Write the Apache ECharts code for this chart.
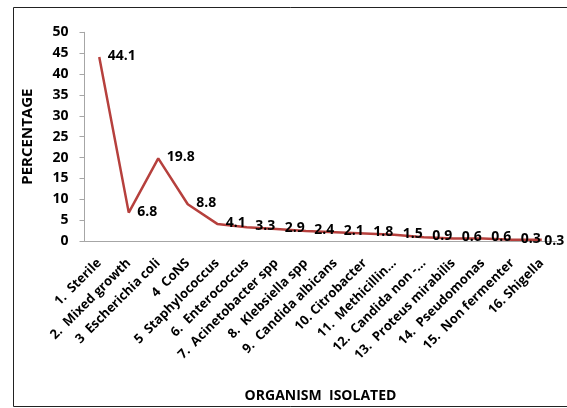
<!DOCTYPE html>
<html>
<head>
<meta charset="utf-8">
<script src="https://cdn.jsdelivr.net/npm/echarts@6/dist/echarts.min.js"></script>
<style>
html,body{margin:0;padding:0;background:#fff;}
#c{width:567px;height:408px;}
</style>
</head>
<body>
<div id="c"></div>
<script>
const categories = [
  "1.  Sterile", "2.  Mixed growth", "3  Escherichia coli", "4  CoNS",
  "5  Staphylococcus", "6.  Enterococcus", "7.  Acinetobacter spp", "8.  Klebsiella spp",
  "9.  Candida albicans", "10. Citrobacter", "11.  Methicillin…", "12.  Candida non -…",
  "13.  Proteus mirabilis", "14.  Pseudomonas", "15.  Non fermenter", "16. Shigella"
];
const percentages = [44.1, 6.8, 19.8, 8.8, 4.1, 3.3, 2.9, 2.4, 2.1, 1.8, 1.5, 0.9, 0.6, 0.6, 0.3, 0.3];
const yTicks = { min: 0, max: 50, interval: 5 };
const xTitle = "ORGANISM  ISOLATED";
const yTitle = "PERCENTAGE";

const FONT = "Open Sans";
const chart = echarts.init(document.getElementById('c'), null, { renderer: 'canvas' });
chart.setOption({
  animation: false,
  backgroundColor: '#ffffff',
  textStyle: { fontFamily: FONT },
  graphic: [{
    type: 'rect',
    shape: { x: 13.5, y: 7.5, width: 600, height: 399 },
    style: { fill: 'none', stroke: '#222', lineWidth: 1 },
    silent: true
  }],
  grid: { left: 84.5, right: 10.5, top: 32.3, bottom: 158.7, containLabel: false },
  xAxis: {
    type: 'category',
    data: categories,
    boundaryGap: true,
    name: xTitle,
    nameLocation: 'middle',
    nameGap: 148,
    nameTextStyle: { fontFamily: FONT, fontWeight: 'bold', fontSize: 14, color: '#000' },
    axisLine: { lineStyle: { color: '#a6a6a6', width: 1 } },
    axisTick: { show: false },
    axisLabel: { rotate: 45, interval: 0, margin: 20, fontFamily: FONT, fontWeight: 'bold', fontSize: 13, color: '#000' }
  },
  yAxis: {
    type: 'value',
    min: yTicks.min, max: yTicks.max, interval: yTicks.interval,
    name: yTitle,
    nameLocation: 'middle',
    nameRotate: 90,
    nameGap: 49,
    nameTextStyle: { fontFamily: FONT, fontWeight: 'bold', fontSize: 15, color: '#000' },
    axisLine: { show: true, lineStyle: { color: '#a6a6a6', width: 1 } },
    axisTick: { show: true, inside: false, length: 5, lineStyle: { color: '#a6a6a6' } },
    splitLine: { show: false },
    axisLabel: { margin: 16, fontFamily: FONT, fontWeight: 'bold', fontSize: 14, color: '#000' }
  },
  series: [{
    type: 'line',
    data: percentages,
    showSymbol: true,
    symbol: 'circle',
    symbolSize: 1,
    itemStyle: { color: 'rgba(0,0,0,0)' },
    lineStyle: { color: '#b6403d', width: 2.5 },
    labelLayout: function (p) {
      return p.dataIndex === percentages.length - 1 ? { dx: -6, dy: 1, hideOverlap: false } : { dy: -1, hideOverlap: false };
    },
    label: {
      show: true, position: 'right', distance: 8,
      fontFamily: FONT, fontWeight: 'bold', fontSize: 14, color: '#000'
    }
  }]
});
</script>
</body>
</html>
